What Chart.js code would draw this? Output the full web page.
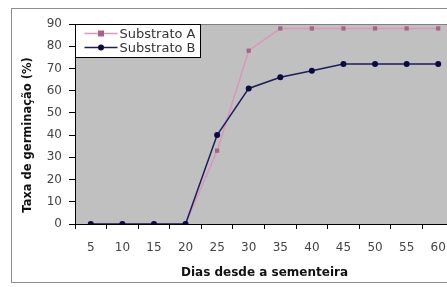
<!DOCTYPE html>
<html>
<head>
<meta charset="utf-8">
<script src="https://cdn.jsdelivr.net/npm/chart.js@4/dist/chart.umd.min.js"></script>
<style>
  html, body { margin: 0; padding: 0; background: #fff; overflow: hidden; }
  #wrap { width: 447px; height: 287px; overflow: hidden; }
  canvas { display: block; }
</style>
</head>
<body>
<div id="wrap"><canvas id="chart" width="470" height="287" style="width:470px;height:287px"></canvas></div>
<script>
// Chart data
const days = ['5', '10', '15', '20', '25', '30', '35', '40', '45', '50', '55', '60'];
const substratoA = [0, 0, 0, 0, 33, 78, 88, 88, 88, 88, 88, 88];
const substratoB = [0, 0, 0, 0, 40, 61, 66, 69, 72, 72, 72, 72];
const seriesNames = ['Substrato A', 'Substrato B'];
const yTitle = 'Taxa de germinação (%)';
const xTitle = 'Dias desde a sementeira';

const FONT = "'DejaVu Sans', sans-serif";

// Frame + grey plot area behind everything
const backgroundPlugin = {
    id: 'background',
    beforeDraw(chart) {
        const { ctx, chartArea: a } = chart;
        ctx.save();
        ctx.fillStyle = '#fff';
        ctx.fillRect(0, 0, chart.width, chart.height);
        ctx.strokeStyle = '#8c8c8c';
        ctx.lineWidth = 1;
        ctx.strokeRect(11.5, 8.5, chart.width + 20, 274);
        ctx.fillStyle = '#c0c0c0';
        ctx.fillRect(a.left, a.top, a.right - a.left, a.bottom - a.top);
        ctx.strokeStyle = '#808080';
        ctx.strokeRect(a.left + 0.5, a.top + 0.5, a.right - a.left, a.bottom - a.top);
        ctx.restore();
    }
};

// Y title and the legend box sitting inside the plot area
const overlayPlugin = {
    id: 'overlay',
    afterDraw(chart) {
        const { ctx, chartArea: a } = chart;
        ctx.save();

        // y axis title
        ctx.translate(28, 135);
        ctx.rotate(-Math.PI / 2);
        ctx.font = 'bold 11.5px ' + FONT;
        ctx.fillStyle = '#111';
        ctx.textAlign = 'center';
        ctx.textBaseline = 'middle';
        ctx.fillText(yTitle, 0, 0);
        ctx.setTransform(1, 0, 0, 1, 0, 0);

        // legend
        const bx = a.left + 0.5, by = a.top + 0.5, bw = 125, bh = 33;
        ctx.fillStyle = '#fff';
        ctx.fillRect(bx, by, bw, bh);
        ctx.strokeStyle = '#000';
        ctx.lineWidth = 1;
        ctx.strokeRect(bx, by, bw, bh);

        ctx.font = '13px ' + FONT;
        ctx.textAlign = 'left';
        ctx.textBaseline = 'middle';
        const rows = [by + 9, by + 23];
        chart.data.datasets.forEach((ds, i) => {
            const y = rows[i];
            ctx.strokeStyle = ds.borderColor;
            ctx.lineWidth = ds.borderWidth;
            ctx.beginPath();
            ctx.moveTo(bx + 9, y);
            ctx.lineTo(bx + 42, y);
            ctx.stroke();
            ctx.fillStyle = ds.pointBackgroundColor;
            if (ds.pointStyle === 'rect') {
                ctx.fillRect(bx + 25.5 - 3, y - 3, 6, 6);
            } else {
                ctx.beginPath();
                ctx.arc(bx + 25.5, y, 3, 0, Math.PI * 2);
                ctx.fill();
            }
            ctx.fillStyle = '#333';
            ctx.fillText(ds.label, bx + 44, y + 1);
        });
        ctx.restore();
    }
};

new Chart(document.getElementById('chart'), {
    type: 'line',
    data: {
        labels: days,
        datasets: [
            {
                label: seriesNames[0],
                data: substratoA,
                borderColor: '#d898bb',
                borderWidth: 1.5,
                pointStyle: 'rect',
                pointRadius: 3,
                pointBackgroundColor: '#a86288',
                pointBorderColor: '#a86288',
                pointBorderWidth: 0,
                order: 1
            },
            {
                label: seriesNames[1],
                data: substratoB,
                borderColor: '#1c1c5c',
                borderWidth: 1.5,
                pointStyle: 'circle',
                pointRadius: 3,
                pointBackgroundColor: '#0a0a40',
                pointBorderColor: '#0a0a40',
                pointBorderWidth: 0,
                order: 0
            }
        ]
    },
    options: {
        responsive: false,
        animation: false,
        layout: { padding: { left: 12, top: 24, right: 16, bottom: 4 } },
        plugins: {
            legend: { display: false },
            tooltip: { enabled: false }
        },
        scales: {
            x: {
                offset: true,
                afterFit: s => { s.height = 59; },
                grid: {
                    offset: true,
                    drawOnChartArea: false,
                    tickLength: 5,
                    color: '#000'
                },
                border: { color: '#000', width: 1 },
                ticks: {
                    padding: 12,
                    color: '#444',
                    font: { family: FONT, size: 12 },
                    maxRotation: 0,
                    autoSkip: false
                },
                title: {
                    display: true,
                    text: xTitle,
                    color: '#111',
                    font: { family: FONT, size: 12, weight: 'bold' },
                    padding: { top: 0, bottom: 3 }
                }
            },
            y: {
                min: 0,
                max: 90,
                afterFit: s => { s.width = 63; },
                grid: {
                    drawOnChartArea: false,
                    tickLength: 6,
                    color: '#000'
                },
                border: { color: '#000', width: 1 },
                ticks: {
                    stepSize: 10,
                    padding: 7,
                    color: '#444',
                    font: { family: FONT, size: 12 }
                }
            }
        }
    },
    plugins: [backgroundPlugin, overlayPlugin]
});
</script>
</body>
</html>
